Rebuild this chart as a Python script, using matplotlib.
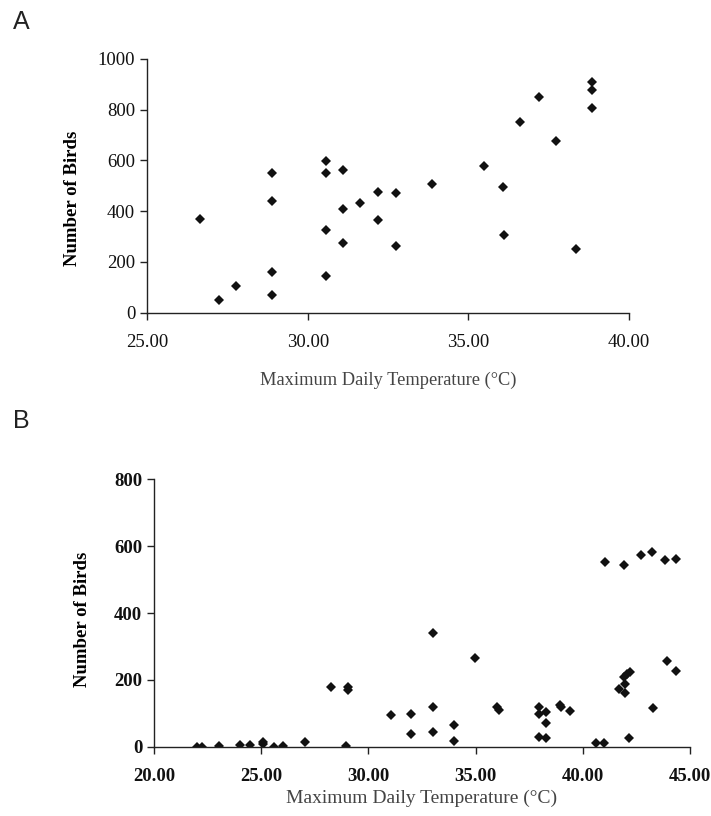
import matplotlib
matplotlib.use('Agg')
import matplotlib.pyplot as plt

# panel A data
temp_a = [26.64, 27.23, 27.77, 28.89, 28.89, 28.89, 28.89, 30.56, 30.56, 30.56,
          30.57, 31.11, 31.11, 31.11, 31.64, 32.19, 32.20, 32.75, 32.76, 33.86,
          35.49, 36.09, 36.10, 36.59, 37.19, 37.73, 38.35, 38.84, 38.84, 38.84]
birds_a = [370, 50, 105, 549, 439, 162, 70, 599, 552, 326,
           146, 564, 410, 276, 431, 476, 365, 470, 261, 508,
           578, 497, 305, 752, 851, 675, 250, 909, 876, 805]

# panel B data
temp_b = [22.0, 22.26, 23.04, 24.02, 24.47, 25.06, 25.06, 25.6, 26.03, 27.06,
          28.24, 29.03, 29.03, 28.96, 31.06, 32.0, 32.0,
          33.01, 33.01, 33.01, 33.99, 33.99, 34.97, 36.0, 36.09,
          37.96, 37.96, 38.27, 38.27, 37.96, 38.3, 38.93, 39.0, 39.4,
          40.6, 40.97, 41.04, 41.92, 42.7, 43.24, 43.83, 44.33,
          43.93, 44.35, 43.29, 42.17, 41.7, 41.95, 41.95, 41.9, 42.07, 42.2]
birds_b = [0, 0, 2, 4, 4, 14, 8, 0, 2, 14,
           180, 180, 170, 2, 96, 98, 38,
           341, 120, 45, 64, 18, 265, 118, 110,
           120, 97, 105, 72, 30, 25, 125, 118, 108,
           12, 12, 553, 543, 574, 583, 559, 563,
           255, 227, 115, 25, 172, 160, 188, 210, 218, 225]

xticks_a = [25, 30, 35, 40]
yticks_a = [0, 200, 400, 600, 800, 1000]
xticks_b = [20, 25, 30, 35, 40, 45]
yticks_b = [0, 200, 400, 600, 800]

serif = ['Liberation Serif', 'DejaVu Serif']
plt.rcParams['font.family'] = serif

fig = plt.figure(figsize=(7.11, 8.16), dpi=100)


def style(ax, weight):
    for s in ['top', 'right']:
        ax.spines[s].set_visible(False)
    for s in ['left', 'bottom']:
        ax.spines[s].set_color('#222222')
        ax.spines[s].set_linewidth(1.0)
    ax.tick_params(direction='out', length=5, width=1, colors='#222222',
                   labelsize=13.5, labelcolor='#111111')
    ax.tick_params(axis='x', pad=10)
    for lab in ax.get_xticklabels() + ax.get_yticklabels():
        lab.set_fontweight(weight)


ax1 = fig.add_axes([0.2068, 0.6168, 0.678, 0.311])
ax1.plot(temp_a, birds_a, 'D', color='#111111', ms=5.6, mew=0)
ax1.set_xlim(25, 40)
ax1.set_ylim(0, 1000)
ax1.set_xticks(xticks_a)
ax1.set_xticklabels(['{:.2f}'.format(t) for t in xticks_a])
ax1.set_yticks(yticks_a)
style(ax1, 'normal')
ax1.set_ylabel('Number of Birds', fontsize=13.5, fontweight='bold')
ax1.yaxis.set_label_coords(-0.137, 0.452)
ax1.set_xlabel('Maximum Daily Temperature (\u00b0C)', fontsize=13.2, color='#444444', labelpad=15)

ax2 = fig.add_axes([0.2166, 0.0849, 0.754, 0.3277])
ax2.plot(temp_b, birds_b, 'D', color='#111111', ms=5.6, mew=0)
ax2.set_xlim(20, 45)
ax2.set_ylim(0, 800)
ax2.set_xticks(xticks_b)
ax2.set_xticklabels(['{:.2f}'.format(t) for t in xticks_b])
ax2.set_yticks(yticks_b)
style(ax2, 'bold')
ax2.set_ylabel('Number of Birds', fontsize=13.5, fontweight='bold')
ax2.yaxis.set_label_coords(-0.1175, 0.478)
ax2.set_xlabel('Maximum Daily Temperature (\u00b0C)', fontsize=14, color='#444444', labelpad=4)

fig.text(0.018, 0.965, 'A', fontsize=18, family=['Liberation Sans', 'DejaVu Sans'], color='#222222')
fig.text(0.018, 0.475, 'B', fontsize=18, family=['Liberation Sans', 'DejaVu Sans'], color='#222222')

fig.savefig('out.png', dpi=100)
